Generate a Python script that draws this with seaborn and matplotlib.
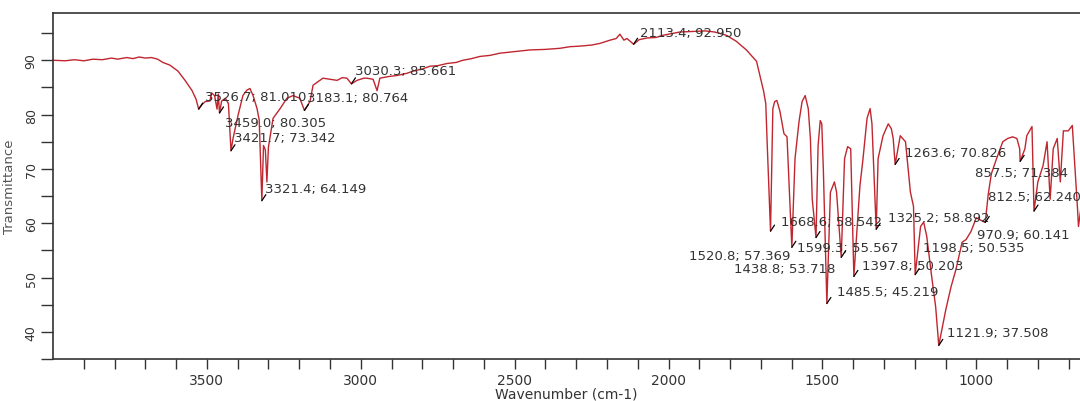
import matplotlib
matplotlib.use("Agg")
import matplotlib.pyplot as plt
import seaborn as sns
import pandas as pd

# IR spectrum: wavenumber (cm-1) and transmittance (%)
wavenumber = [
    4000, 3960, 3930, 3900, 3870, 3840, 3810, 3790, 3760, 3740, 3720, 3700,
    3680, 3660, 3643, 3620, 3594, 3571, 3548, 3535, 3526.7, 3515, 3505, 3490,
    3485, 3475, 3467, 3463, 3459.0, 3452, 3440, 3430, 3421.7, 3415, 3399, 3383,
    3370, 3360, 3350, 3337, 3330, 3321.4, 3316, 3310, 3305, 3300, 3285, 3262,
    3240, 3220, 3198, 3183.1, 3165, 3155, 3133, 3123, 3100, 3077, 3060, 3045,
    3030.3, 3012, 2990, 2980, 2960, 2947, 2938, 2910, 2882, 2850, 2830, 2800,
    2775, 2750, 2720, 2690, 2668, 2640, 2613, 2580, 2548, 2500, 2450, 2400,
    2353, 2320, 2288, 2250, 2223, 2190, 2170, 2158, 2145, 2135, 2113.4, 2095,
    2070, 2040, 2018, 1990, 1963, 1920, 1880, 1850, 1812, 1780, 1747, 1714,
    1691, 1684, 1680, 1668.6, 1661, 1655, 1648, 1638, 1625, 1615, 1599.3, 1589,
    1576, 1566, 1556, 1546, 1539, 1533, 1520.8, 1514, 1507, 1502, 1497, 1485.5,
    1474, 1461, 1454, 1438.8, 1428, 1418, 1408, 1397.8, 1378, 1368, 1355, 1345,
    1339, 1325.2, 1319, 1303, 1286, 1276, 1270, 1263.6, 1247, 1230, 1214, 1204,
    1198.5, 1181, 1171, 1161, 1145, 1132, 1121.9, 1099, 1082, 1066, 1046, 1033,
    1017, 1000, 970.9, 961, 951, 934, 914, 898, 882, 868, 859, 857.5,
    842, 836, 819, 812.5, 800, 783, 770, 760, 750, 737, 727, 717,
    701, 688, 671, 668, 655, 640,
]
transmittance = [
    90.0, 89.9, 90.1, 89.9, 90.2, 90.1, 90.4, 90.2, 90.5, 90.3, 90.6, 90.4,
    90.5, 90.2, 89.6, 89.1, 88.0, 86.3, 84.4, 82.8, 81.010, 81.9, 82.4, 82.5,
    84.0, 83.5, 81.0, 83.8, 80.305, 82.5, 83.0, 82.0, 73.342, 75.6, 79.8, 83.5,
    84.5, 84.8, 83.5, 81.1, 79.0, 64.149, 74.3, 73.5, 67.6, 74.0, 79.3, 81.1,
    83.0, 83.5, 83.0, 80.764, 82.4, 85.4, 86.3, 86.7, 86.5, 86.3, 86.8, 86.7,
    85.661, 86.3, 86.7, 86.7, 86.5, 84.4, 86.7, 87.0, 87.2, 87.6, 88.0, 88.4,
    88.9, 89.0, 89.4, 89.6, 90.0, 90.3, 90.7, 90.9, 91.3, 91.6, 91.9, 92.0,
    92.2, 92.5, 92.6, 92.8, 93.1, 93.7, 94.0, 94.8, 93.7, 94.0, 92.950, 93.8,
    94.1, 94.2, 94.6, 94.9, 95.2, 95.3, 95.4, 95.2, 94.6, 93.5, 91.9, 89.8,
    84.3, 82.0, 75.6, 58.542, 81.1, 82.4, 82.6, 80.6, 76.5, 75.9, 55.567, 71.9,
    78.7, 82.4, 83.5, 81.1, 75.6, 64.4, 57.369, 74.3, 78.9, 78.3, 70.0, 45.219,
    65.7, 67.6, 65.7, 53.718, 71.9, 74.1, 73.7, 50.203, 66.9, 71.9, 79.3, 81.1,
    78.3, 58.892, 71.9, 76.1, 78.3, 77.4, 75.6, 70.826, 76.1, 75.0, 65.7, 63.1,
    50.535, 59.4, 60.2, 57.6, 50.2, 44.6, 37.508, 44.1, 48.3, 51.5, 56.5, 57.0,
    58.5, 61.0, 60.141, 65.4, 69.1, 71.9, 75.0, 75.6, 75.9, 75.6, 73.7, 71.384,
    73.7, 76.1, 77.8, 62.240, 67.6, 70.6, 75.0, 64.4, 73.7, 75.6, 67.6, 77.0,
    77.0, 78.0, 62.6, 59.4, 65.0, 72.0,
]

# Picked peaks: position, value, and where the label sits relative to the peak
peak_wn = [3526.7, 3459.0, 3421.7, 3321.4, 3183.1, 3030.3, 2113.4, 1668.6,
           1599.3, 1520.8, 1485.5, 1438.8, 1397.8, 1325.2, 1263.6, 1198.5,
           1121.9, 970.9, 857.5, 812.5]
peak_t = [81.010, 80.305, 73.342, 64.149, 80.764, 85.661, 92.950, 58.542,
          55.567, 57.369, 45.219, 53.718, 50.203, 58.892, 70.826, 50.535,
          37.508, 60.141, 71.384, 62.240]
label_dx = [6, 6, 3, 3, 3, 4, 6, 10, 5, -26, 10, -6, 8, 12, 10, 8, 8, -8, -45, -46]
label_dy = [13, -10, 13, 12, 13, 13, 12, 10, 0, -18, 12, -11, 11, 12, 12, 27, 13, -12, -11, 15]
label_ha = ["left"] * 9 + ["right", "left", "right"] + ["left"] * 8

x_major = [3500, 3000, 2500, 2000, 1500, 1000]
x_minor = [3900, 3800, 3700, 3600, 3400, 3300, 3200, 3100, 2900, 2800, 2700,
           2600, 2400, 2300, 2200, 2100, 1900, 1800, 1700, 1600, 1400, 1300,
           1200, 1100, 900, 800, 700]
y_major = [40, 50, 60, 70, 80, 90]
y_minor = [35, 45, 55, 65, 75, 85, 95]

df = pd.DataFrame({"Wavenumber": wavenumber, "Transmittance": transmittance})

sns.set_style("ticks")
plt.rcParams["font.family"] = ["DejaVu Sans"]

fig = plt.figure(figsize=(10.8, 4.02), dpi=100)
ax = fig.add_axes([53 / 1080, 1 - 360 / 402, 1 - 53 / 1080, 346 / 402])

line_color = "#c0262f"
sns.lineplot(data=df, x="Wavenumber", y="Transmittance", sort=False,
             estimator=None, color=line_color, linewidth=1.0, ax=ax)

ax.set_xlim(4000, 663)
ax.set_ylim(35, 98.7)

ax.set_xticks(x_major)
ax.set_xticks(x_minor, minor=True)
ax.set_yticks(y_major)
ax.set_yticks(y_minor, minor=True)
ax.tick_params(axis="x", which="both", direction="out", length=7, width=1.0,
               colors="#333333", labelsize=10, pad=3)
ax.tick_params(axis="y", which="both", direction="out", length=9, width=1.0,
               colors="#333333", labelsize=9, pad=2)
for lab in ax.get_yticklabels():
    lab.set_rotation(90)
    lab.set_va("center")

for side in ["left", "top", "bottom"]:
    ax.spines[side].set_color("#333333")
    ax.spines[side].set_linewidth(1.2)
ax.spines["right"].set_visible(False)

ax.set_xlabel("Wavenumber (cm-1)", fontsize=10, color="#333333", labelpad=0)
ax.set_ylabel("Transmittance", fontsize=9.5, color="#555555")
ax.yaxis.set_label_coords(-0.036, 0.5)

for wn, t, dx, dy, ha in zip(peak_wn, peak_t, label_dx, label_dy, label_ha):
    # short black tick marking the picked peak
    ax.annotate("", xy=(wn, t), xytext=(4, 6), textcoords="offset pixels",
                arrowprops=dict(arrowstyle="-", lw=0.9, color="black",
                                shrinkA=0, shrinkB=0))
    ax.annotate(f"{wn:.1f}; {t:.3f}", xy=(wn, t), xytext=(dx, dy),
                textcoords="offset pixels", ha=ha, va="center",
                fontsize=9.5, color="#333333", annotation_clip=False)

fig.savefig("out.png", dpi=100)
